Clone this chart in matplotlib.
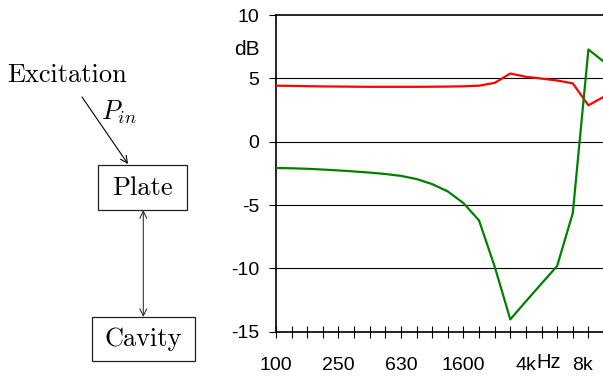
import numpy as np
import matplotlib
matplotlib.use("Agg")
import matplotlib.pyplot as plt
from matplotlib.patches import Rectangle
from matplotlib.ticker import FixedLocator

plt.rcParams["mathtext.fontset"] = "cm"
plt.rcParams["font.family"] = ["Liberation Sans", "DejaVu Sans"]

# third-octave bands shown on the x axis
bands = ["100", "125", "160", "200", "250", "315", "400", "500", "630", "800",
         "1000", "1250", "1600", "2000", "2500", "3150", "4000", "5000",
         "6300", "8000", "10000", "12500"]
red_db = [4.42, 4.40, 4.38, 4.36, 4.35, 4.34, 4.33, 4.33, 4.33, 4.33, 4.34,
          4.35, 4.37, 4.42, 4.64, 5.38, 5.12, 4.98, 4.83, 4.60, 2.87, 3.55]
green_db = [-2.08, -2.10, -2.14, -2.20, -2.27, -2.35, -2.44, -2.55, -2.70,
            -2.95, -3.35, -3.93, -4.85, -6.22, -9.86, -14.03, -12.6, -11.2,
            -9.81, -5.64, 7.28, 6.30]
label_pos = [0, 4, 8, 12, 16, 19.6]
label_txt = ["100", "250", "630", "1600", "4k", "8k"]
y_ticks = [-15, -10, -5, 0, 5, 10]

W, H = 603, 378
fig = plt.figure(figsize=(W / 100, H / 100), dpi=100)

# ---- block diagram (pixel coordinates) ----
dg = fig.add_axes([0, 0, 1, 1])
dg.set_xlim(0, W)
dg.set_ylim(H, 0)
dg.axis("off")
serif = dict(family="cmr10", fontsize=19, color="black")
dg.text(67, 75, "Excitation", ha="center", va="center", **serif)
dg.text(119, 112, r"$P_{in}$", ha="center", va="center", fontsize=19)
dg.annotate("", xy=(128, 164), xytext=(82, 97),
            arrowprops=dict(arrowstyle="->,head_length=0.5,head_width=0.25",
                            lw=0.8, color="black", shrinkA=0, shrinkB=0))
dg.add_patch(Rectangle((98, 165), 89, 45, fill=False, lw=0.9, edgecolor="#222222"))
dg.text(142.5, 188, "Plate", ha="center", va="center", **serif)
dg.add_patch(Rectangle((92, 317), 103, 44, fill=False, lw=0.9, edgecolor="#222222"))
dg.text(143.5, 339.5, "Cavity", ha="center", va="center", **serif)
dg.annotate("", xy=(143.3, 210), xytext=(143.3, 317),
            arrowprops=dict(arrowstyle="<->,head_length=0.5,head_width=0.25",
                            lw=0.8, color="#333333", shrinkA=0, shrinkB=0))

# ---- level chart ----
x = np.arange(len(bands))
step = 15.62
left, bottom, top = 276 / W, 1 - 331.7 / H, 1 - 15 / H
ax = fig.add_axes([left, bottom, 22 * step / W, top - bottom])
ax.plot(x, red_db, color="#ff0000", lw=1.6, zorder=3)
ax.plot(x, green_db, color="#008000", lw=1.6, zorder=4)
ax.set_xlim(0, 22)
ax.set_ylim(-15, 10)
for v in [5, 0, -5, -10]:
    ax.axhline(v, color="black", lw=0.8, zorder=1)
for s in ax.spines.values():
    s.set_linewidth(1.2)
    s.set_color("black")

ax.set_yticks(y_ticks)
ax.set_yticklabels([str(v) for v in y_ticks])
ax.tick_params(axis="y", direction="out", length=5, width=0.8, pad=7, labelsize=14)
ax.xaxis.remove_overlapping_locs = False
ax.xaxis.set_minor_locator(FixedLocator(x))
ax.set_xticks(label_pos)
ax.set_xticklabels(label_txt)
ax.tick_params(axis="x", which="major", length=0, pad=18.5, labelsize=14)
ax.tick_params(axis="x", which="minor", direction="inout", length=8, width=0.8)
ax.text(-0.047, 7.25, "dB", ha="right", va="center", fontsize=15,
        transform=ax.get_yaxis_transform())
ax.annotate("Hz", xy=(17.45, 0), xycoords=("data", "axes fraction"),
            xytext=(0, -22), textcoords="offset points", ha="center", va="center",
            fontsize=14.5)

fig.savefig("out.png", dpi=100)
